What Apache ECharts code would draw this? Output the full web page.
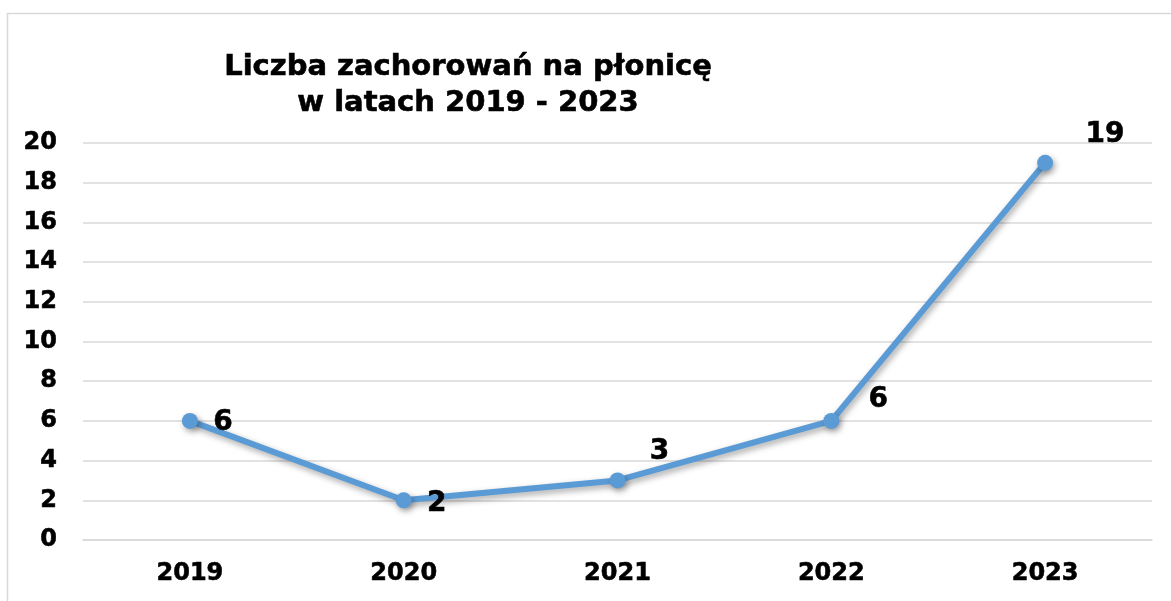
<!DOCTYPE html>
<html>
<head>
<meta charset="utf-8">
<script src="https://cdn.jsdelivr.net/npm/echarts@6/dist/echarts.min.js"></script>
<style>
  * { margin: 0; padding: 0; }
  html, body { background: #fff; }
</style>
</head>
<body>
<!-- kontener wykresu -->
<div id="main" style="width: 1171px;height: 601px;"></div>
<script>
  // dane
  var years = ['2019', '2020', '2021', '2022', '2023'];
  var cases = [6, 2, 3, 6, 19];
  var yTicks = { min: 0, max: 20, interval: 2 };

  // przesunięcia etykiet względem punktów
  var labelOffsets = [[33, 2], [33, 3], [42, -29], [47, -21], [60, -28]];

  var font = 'DejaVu Sans';
  // trochę grubszy tekst, jak w oryginale
  var heavy = { textBorderColor: '#000', textBorderWidth: 0.6 };
  var mycharts = echarts.init(document.getElementById('main'));

  var option = {
    animation: false,
    backgroundColor: '#fff',
    title: {
      text: 'Liczba zachorowań na płonicę\nw latach 2019 - 2023',
      left: 463,
      top: 44,
      textAlign: 'center',
      textStyle: Object.assign({
        fontFamily: font,
        fontWeight: 'bold',
        fontSize: 29,
        lineHeight: 36,
        color: '#000'
      }, heavy)
    },
    graphic: [{
      type: 'rect',
      shape: { x: 7.5, y: 13.5, width: 1300, height: 700 },
      style: { fill: 'none', stroke: '#d9d9d9', lineWidth: 1.5 },
      silent: true
    }],
    grid: {
      left: 83,
      right: 19,
      top: 143,
      bottom: 61
    },
    xAxis: {
      type: 'category',
      data: years,
      boundaryGap: true,
      axisTick: { show: false },
      axisLine: { lineStyle: { color: '#d9d9d9', width: 1.5 } },
      axisLabel: Object.assign({
        margin: 22,
        fontFamily: font,
        fontWeight: 'bold',
        fontSize: 24,
        color: '#000'
      }, heavy)
    },
    yAxis: {
      type: 'value',
      min: yTicks.min,
      max: yTicks.max,
      interval: yTicks.interval,
      axisLine: { show: false },
      axisTick: { show: false },
      splitLine: { lineStyle: { color: '#d9d9d9', width: 1.5 } },
      axisLabel: Object.assign({
        margin: 26,
        fontFamily: font,
        fontWeight: 'bold',
        fontSize: 24,
        color: '#000'
      }, heavy)
    },
    series: [{
      type: 'line',
      data: cases.map(function (v, i) {
        return { value: v, label: { offset: labelOffsets[i] } };
      }),
      symbol: 'circle',
      symbolSize: 16,
      lineStyle: {
        color: '#5b9bd5',
        width: 6,
        shadowColor: 'rgba(0,0,0,0.35)',
        shadowBlur: 6,
        shadowOffsetX: 2,
        shadowOffsetY: 3
      },
      itemStyle: {
        color: '#5b9bd5',
        shadowColor: 'rgba(0,0,0,0.35)',
        shadowBlur: 6,
        shadowOffsetX: 2,
        shadowOffsetY: 3
      },
      label: Object.assign({
        show: true,
        position: 'inside',
        fontFamily: font,
        fontWeight: 'bold',
        fontSize: 28,
        color: '#000'
      }, heavy),
      emphasis: { disabled: true }
    }]
  };
  mycharts.setOption(option);
</script>
</body>
</html>
